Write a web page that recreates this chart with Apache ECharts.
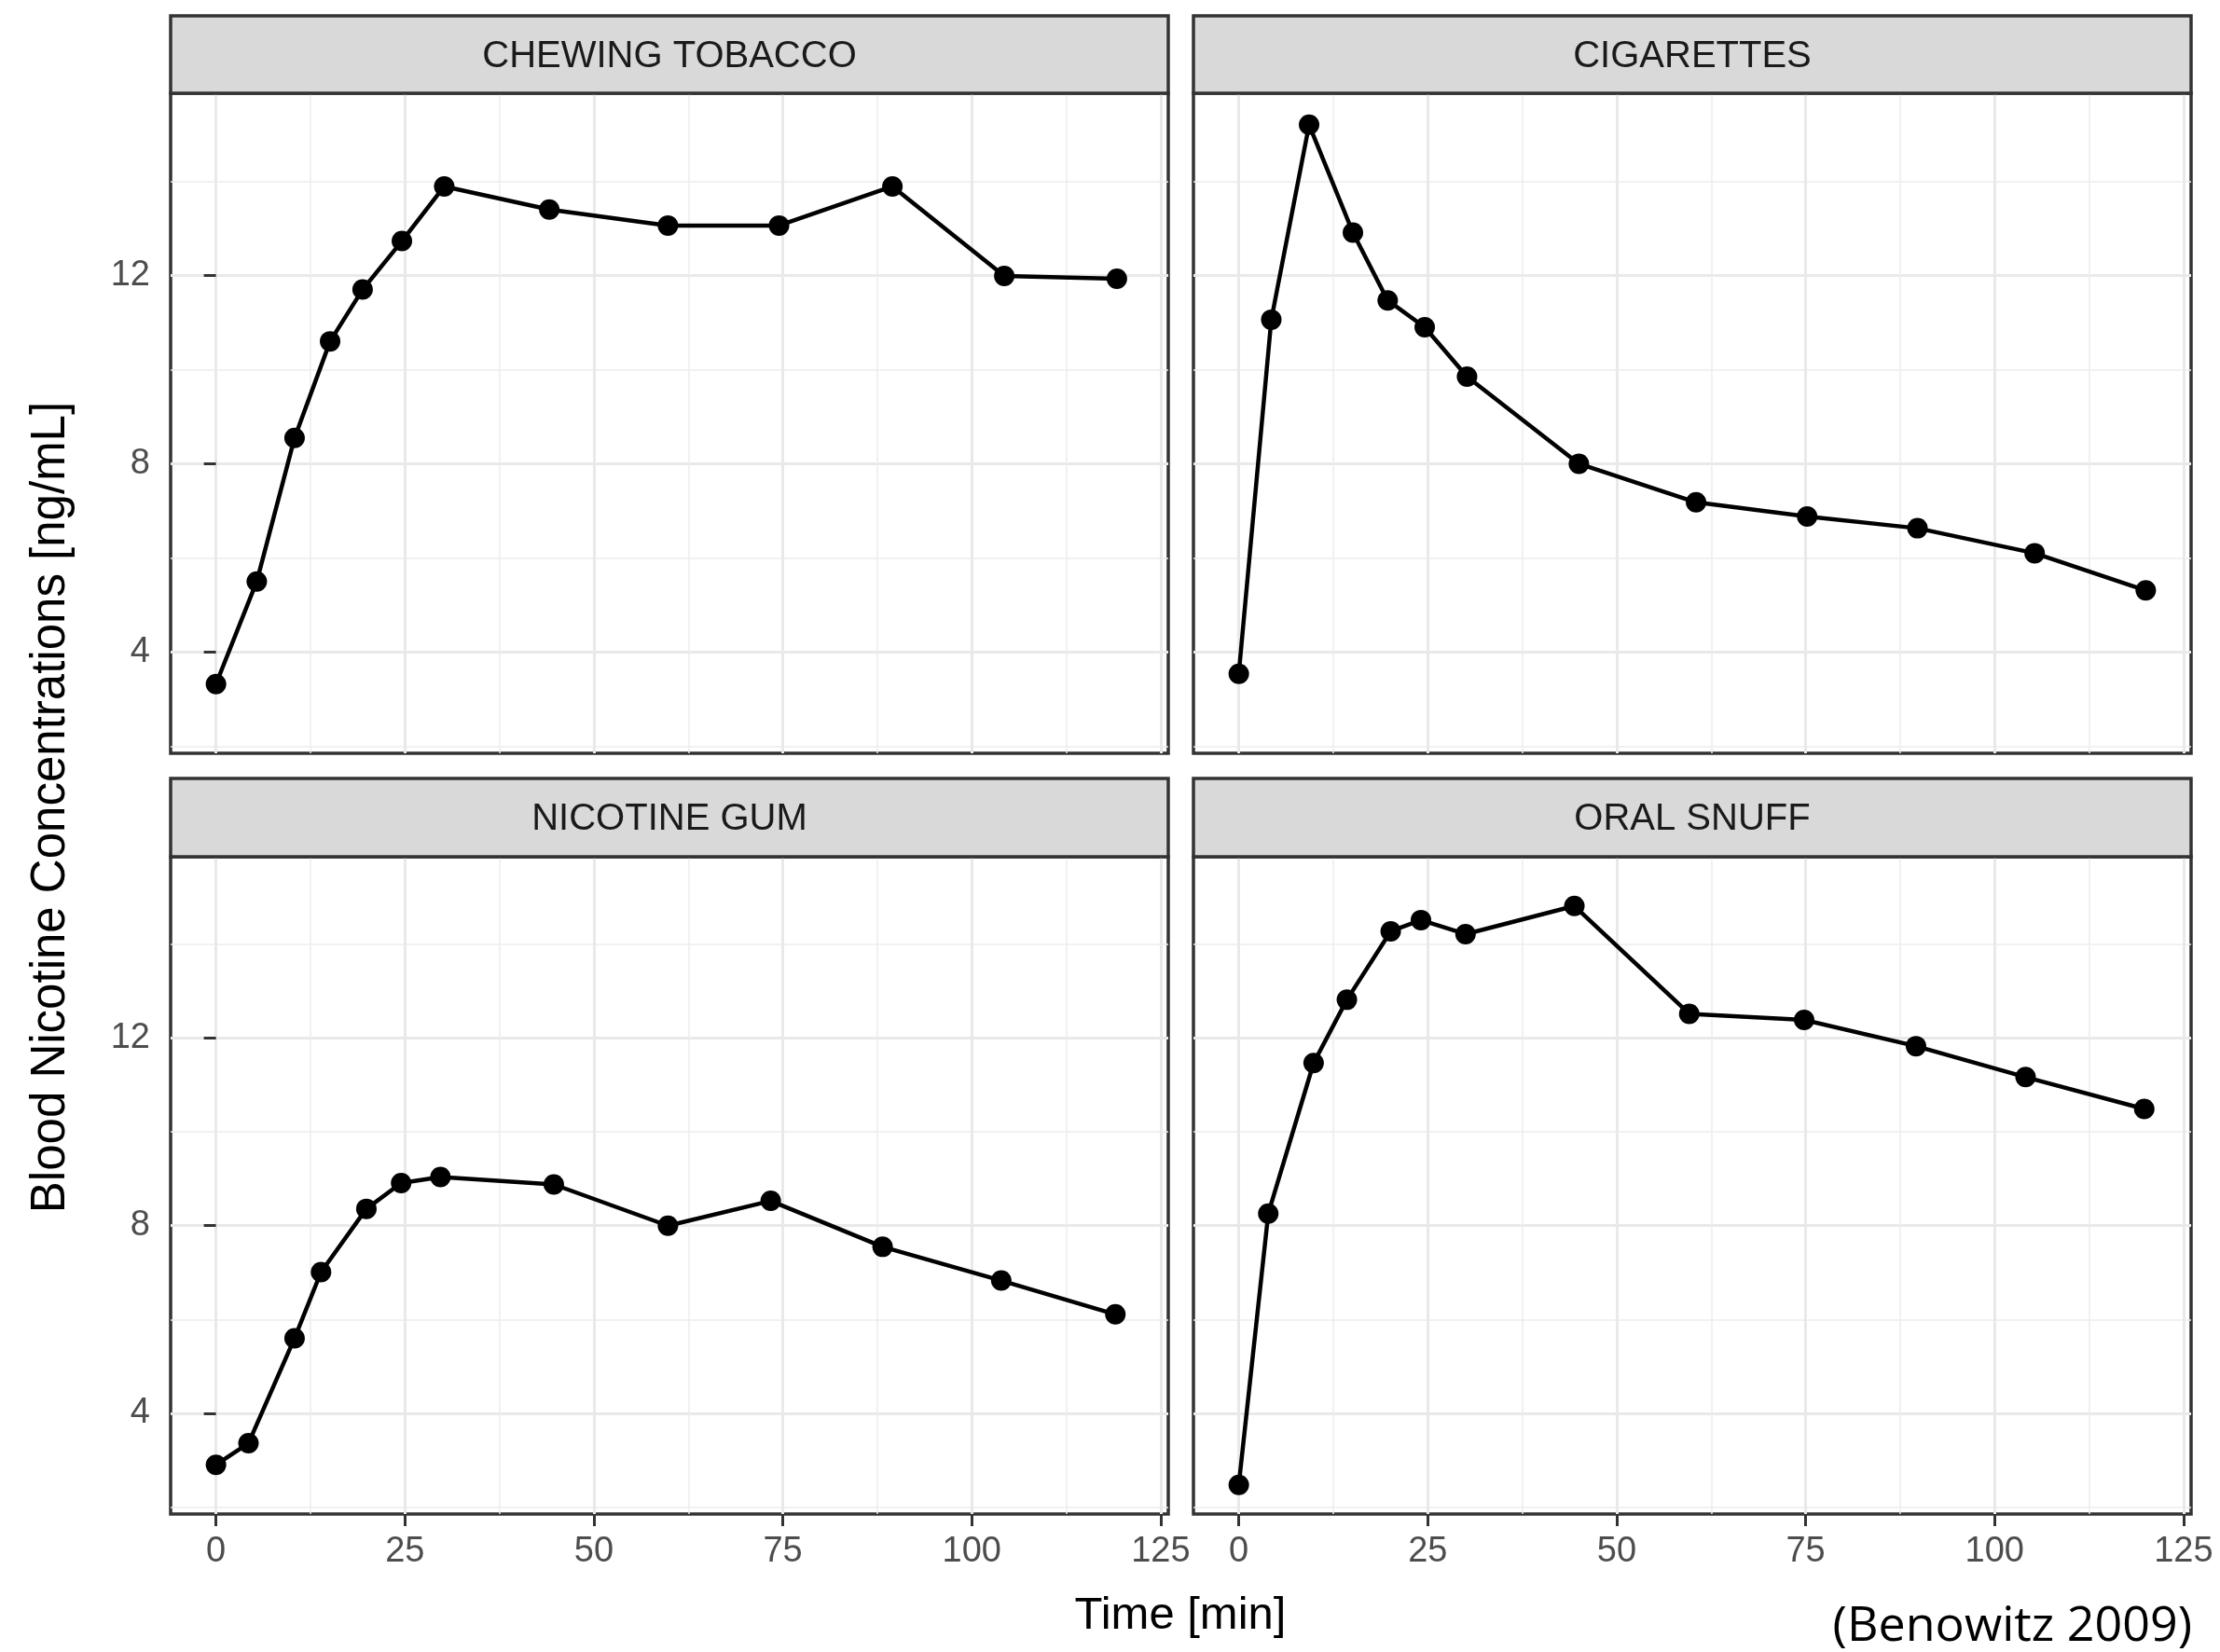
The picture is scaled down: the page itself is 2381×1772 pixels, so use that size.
<!DOCTYPE html>
<html>
<head>
<meta charset="utf-8">
<title>Blood Nicotine Concentrations</title>
<script src="https://cdn.jsdelivr.net/npm/echarts@6/dist/echarts.min.js"></script>
<style>
  html, body { margin: 0; padding: 0; background: #fff; }
  #chart { width: 2381px; height: 1772px; }
</style>
</head>
<body>
<div id="chart"></div>
<script>
// facet titles
var panelTitles = ['CHEWING TOBACCO', 'CIGARETTES', 'NICOTINE GUM', 'ORAL SNUFF'];

// time [min] / concentration [ng/mL]
var chewTime = [0, 5.4, 10.4, 15.1, 19.4, 24.6, 30.2, 44.1, 59.8, 74.5, 89.5, 104.3, 119.2];
var chewConc = [3.32, 5.5, 8.55, 10.6, 11.7, 12.73, 13.89, 13.4, 13.06, 13.06, 13.89, 11.99, 11.93];

var cigTime = [0, 4.3, 9.3, 15.1, 19.7, 24.6, 30.2, 45, 60.5, 75.2, 89.8, 105.3, 120];
var cigConc = [3.54, 11.06, 15.2, 12.91, 11.47, 10.9, 9.85, 8.0, 7.18, 6.88, 6.63, 6.1, 5.31];

var gumTime = [0, 4.3, 10.4, 13.9, 19.9, 24.5, 29.7, 44.7, 59.8, 73.4, 88.2, 103.9, 119];
var gumConc = [2.9, 3.36, 5.6, 7.01, 8.36, 8.91, 9.04, 8.88, 8.0, 8.53, 7.55, 6.83, 6.11];

var snuffTime = [0, 3.9, 9.9, 14.3, 20.1, 24.1, 30, 44.4, 59.6, 74.8, 89.6, 104.1, 119.8];
var snuffConc = [2.47, 8.26, 11.47, 12.82, 14.28, 14.52, 14.22, 14.82, 12.52, 12.39, 11.83, 11.17, 10.49];

// axis breaks
var xMajor = [0, 25, 50, 75, 100, 125];
var xMinor = [12.5, 37.5, 62.5, 87.5, 112.5];
var yMajor = [4, 8, 12];
var yMinor = [2, 6, 10, 14];
var xRange = [-6, 126];
var yRange = [1.85, 15.87];

var xTitle = 'Time [min]';
var yTitle = 'Blood Nicotine Concentrations [ng/mL]';
var caption = '(Benowitz 2009)';

var panelData = [
  [chewTime, chewConc],
  [cigTime, cigConc],
  [gumTime, gumConc],
  [snuffTime, snuffConc]
];

// layout of the 2x2 facets
var boxes = [
  { left: 183, top: 100, height: 708, stripTop: 17 },
  { left: 1280, top: 100, height: 708, stripTop: 17 },
  { left: 183, top: 919, height: 705, stripTop: 835 },
  { left: 1280, top: 919, height: 705, stripTop: 835 }
];
var panelW = 1070;
var FONT = 'Liberation Sans';
var tickStyle = { color: '#333333', width: 3 };
var labelStyle = { fontSize: 38, color: '#4d4d4d', fontFamily: FONT };

var grids = [], xAxes = [], yAxes = [], series = [], graphics = [];

boxes.forEach(function (b, i) {
  var isBottom = i >= 2;
  var isLeft = i % 2 === 0;

  grids.push({
    left: b.left, top: b.top, width: panelW, height: b.height,
    show: true, backgroundColor: '#fff',
    borderColor: '#333333', borderWidth: 3.5,
    containLabel: false, outerBoundsMode: 'none'
  });

  // main x axis (major grid + labels)
  xAxes.push({
    type: 'value', gridIndex: i, min: xRange[0], max: xRange[1],
    axisLine: { show: false },
    axisTick: { show: isBottom, customValues: xMajor, length: 13, lineStyle: tickStyle },
    axisLabel: Object.assign({ show: isBottom, customValues: xMajor, margin: 22 }, labelStyle),
    splitLine: { show: true, lineStyle: { color: '#e9e9e9', width: 3 } }
  });
  // minor x grid
  xAxes.push({
    type: 'value', gridIndex: i, min: xRange[0], max: xRange[1], position: 'bottom',
    axisLine: { show: false },
    axisTick: { show: false, customValues: xMinor },
    axisLabel: { show: false, customValues: xMinor },
    splitLine: { show: true, lineStyle: { color: '#ececec', width: 1.5 } }
  });

  yAxes.push({
    type: 'value', gridIndex: i, min: yRange[0], max: yRange[1],
    axisLine: { show: false },
    axisTick: { show: isLeft, customValues: yMajor, length: 13, lineStyle: tickStyle },
    axisLabel: Object.assign({ show: isLeft, customValues: yMajor, margin: 22 }, labelStyle),
    splitLine: { show: true, lineStyle: { color: '#e9e9e9', width: 3 } }
  });
  yAxes.push({
    type: 'value', gridIndex: i, min: yRange[0], max: yRange[1], position: 'left',
    axisLine: { show: false },
    axisTick: { show: false, customValues: yMinor },
    axisLabel: { show: false, customValues: yMinor },
    splitLine: { show: true, lineStyle: { color: '#ececec', width: 1.5 } }
  });

  var t = panelData[i][0], c = panelData[i][1];
  series.push({
    type: 'line',
    name: panelTitles[i],
    xAxisIndex: i * 2,
    yAxisIndex: i * 2,
    data: t.map(function (v, k) { return [v, c[k]]; }),
    symbol: 'circle',
    symbolSize: 22,
    showSymbol: true,
    lineStyle: { color: '#000', width: 4.5 },
    itemStyle: { color: '#000' },
    z: 5,
    animation: false
  });

  // facet strip
  graphics.push({
    type: 'rect',
    shape: { x: b.left, y: b.stripTop, width: panelW, height: b.top - b.stripTop },
    style: { fill: '#d9d9d9', stroke: '#333333', lineWidth: 3.5 },
    z: 10
  });
  graphics.push({
    type: 'text',
    x: b.left + panelW / 2,
    y: (b.stripTop + b.top) / 2 + 2,
    style: {
      text: panelTitles[i], fill: '#1a1a1a', fontSize: 40, fontFamily: FONT,
      align: 'center', verticalAlign: 'middle'
    },
    z: 11
  });
});

// axis titles and source caption
graphics.push({
  type: 'text', x: 1266, y: 1733,
  style: { text: xTitle, fill: '#000', fontSize: 49, fontFamily: FONT, align: 'center', verticalAlign: 'middle' }
});
graphics.push({
  type: 'text', x: 55, y: 866, rotation: Math.PI / 2,
  style: { text: yTitle, fill: '#000', fontSize: 51, fontFamily: FONT, align: 'center', verticalAlign: 'middle' }
});
graphics.push({
  type: 'text', x: 2351, y: 1745,
  style: { text: caption, fill: '#000', fontSize: 52, fontFamily: 'Open Sans', align: 'right', verticalAlign: 'middle' }
});

var myChart = echarts.init(document.getElementById('chart'));
myChart.setOption({
  backgroundColor: '#fff',
  animation: false,
  textStyle: { fontFamily: FONT },
  grid: grids,
  xAxis: xAxes,
  yAxis: yAxes,
  series: series,
  graphic: graphics
});
</script>
</body>
</html>
